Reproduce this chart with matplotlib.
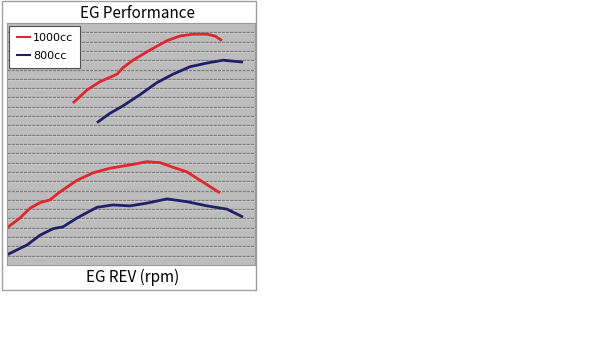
import matplotlib.pyplot as plt
from matplotlib.patches import Rectangle

plt.rcParams['font.family'] = ['Noto Sans CJK JP', 'DejaVu Sans']

# engine speed (rpm) and output curves
rpm_pw_1000 = [4300, 5000, 5650, 6500, 6800, 7300, 8150, 9000, 9650, 10300, 11000, 11400, 11750]
pw_1000 = [17.4, 18.8, 19.7, 20.5, 21.2, 22.0, 23.1, 24.1, 24.6, 24.8, 24.8, 24.6, 24.1]

rpm_pw_800 = [5500, 6150, 6800, 7650, 8500, 9300, 10150, 11000, 11800, 12300, 12800]
pw_800 = [15.3, 16.3, 17.1, 18.3, 19.6, 20.5, 21.3, 21.7, 22.0, 21.9, 21.8]

rpm_tq_1000 = [1000, 1650, 2150, 2650, 3150, 3650, 4500, 5300, 6150, 7150, 8000, 8650, 9300, 10000, 10800, 11650]
tq_1000 = [4.0, 5.05, 6.1, 6.7, 7.0, 7.85, 9.1, 9.9, 10.4, 10.75, 11.1, 11.0, 10.5, 10.0, 8.9, 7.75]

rpm_tq_800 = [1000, 2000, 2650, 3300, 3800, 4500, 5500, 6300, 7150, 8000, 9000, 10000, 11000, 12000, 12800]
tq_800 = [1.1, 2.15, 3.2, 3.9, 4.1, 5.05, 6.2, 6.45, 6.35, 6.65, 7.1, 6.8, 6.35, 6.0, 5.15]

red = '#e3262b'
navy = '#1f2068'

W, H = 600, 337
fig = plt.figure(figsize=(W / 100, H / 100), dpi=100)

# outer frame of the chart
fig.patches.append(Rectangle((2 / W, 1 - 290 / H), 254 / W, 289.5 / H,
                             transform=fig.transFigure, fill=False,
                             edgecolor='#a0a0a0', linewidth=1.0))

ax = fig.add_axes([7 / W, 1 - 265 / H, 248 / W, 242 / H])
ax.set_facecolor('#bdbdbd')
ax.set_xlim(1000, 13400)
ax.set_ylim(0, 26)
ax.set_xticks([])
ax.set_yticks([])
# engraved-look grid: dark line with a light one just below
for v in range(1, 26):
    ax.axhline(v - 0.1, color='#d6d6d6', linewidth=0.6, zorder=0.5)
    ax.axhline(v, color='#7c7c7c', linestyle=(0, (2.5, 0.8)), linewidth=0.9, zorder=0.6)
for s in ax.spines.values():
    s.set_color('#9a9a9a')
    s.set_linewidth(0.8)

kw = dict(linewidth=2.0, solid_capstyle='butt', solid_joinstyle='round')
ax.plot(rpm_pw_1000, pw_1000, color=red, label='1000cc', **kw)
ax.plot(rpm_pw_800, pw_800, color=navy, label='800cc', **kw)
ax.plot(rpm_tq_1000, tq_1000, color=red, **kw)
ax.plot(rpm_tq_800, tq_800, color=navy, **kw)

leg = ax.legend(loc='upper left', bbox_to_anchor=(2 / 248, 1 - 3 / 242),
                prop={'family': 'DejaVu Sans', 'size': 8}, frameon=True, fancybox=False,
                handlelength=1.4, handletextpad=0.15, labelspacing=0.75,
                borderpad=0.6, borderaxespad=0)
for ln in leg.get_lines():
    ln.set_linewidth(1.5)
leg.get_frame().set_edgecolor('#505050')
leg.get_frame().set_linewidth(0.8)
leg.get_frame().set_facecolor('white')
leg.get_frame().set_alpha(1)

fig.text(137 / W, 1 - 13 / H, 'EG Performance', ha='center', va='center', fontsize=11)
fig.text(133 / W, 1 - 277 / H, 'EG REV (rpm)', ha='center', va='center', fontsize=11)

fig.savefig('out.png', dpi=100)
